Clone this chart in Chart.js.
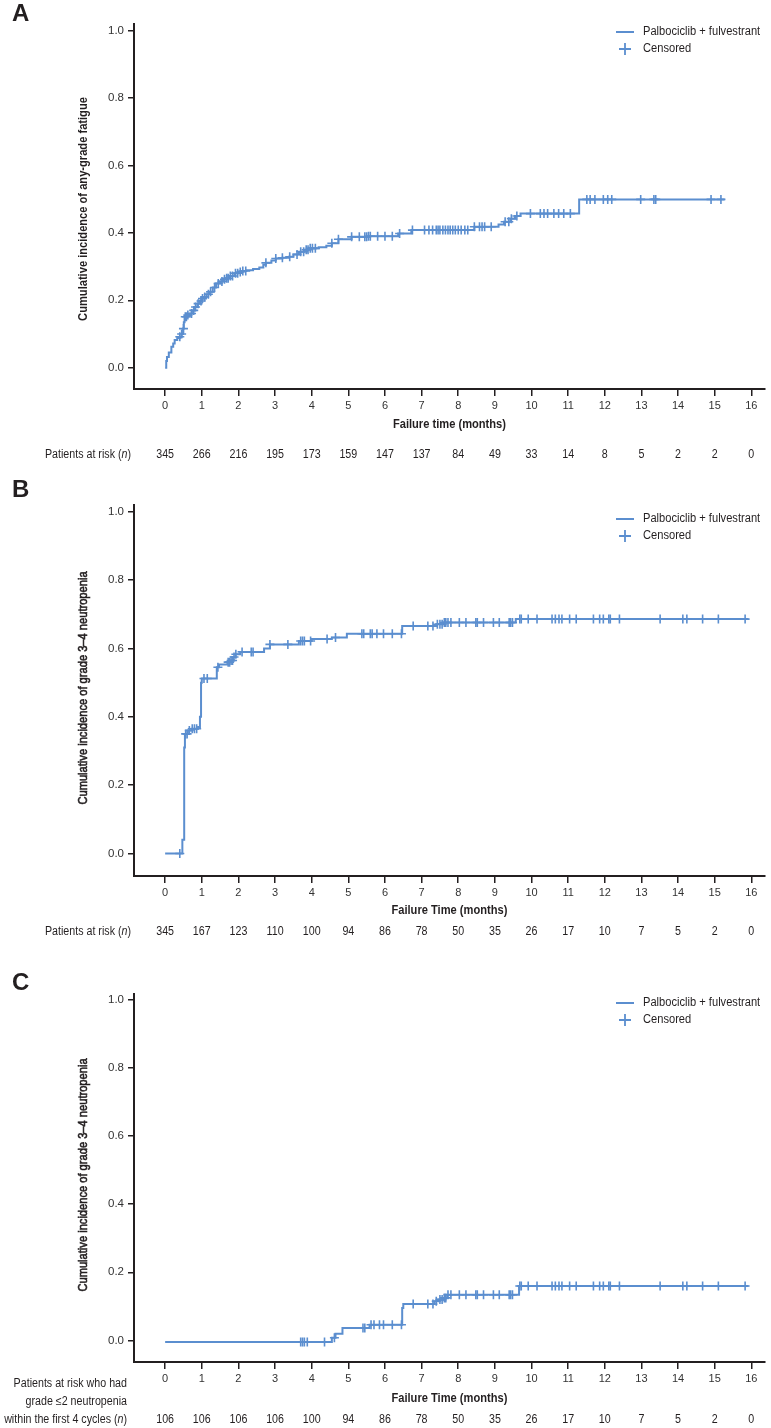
<!DOCTYPE html>
<html>
<head>
<meta charset="utf-8">
<script src="https://cdn.jsdelivr.net/npm/chart.js@4.4.0/dist/chart.umd.min.js"></script>
<style>
    body { margin: 0; background: #fff; }
    #wrap { position: relative; width: 771px; height: 1428px; }
    canvas { position: absolute; left: 0; }
</style>
</head>
<body>
<div id="wrap">
    <canvas id="chartA" width="771" height="470" style="top:0px"></canvas>
    <canvas id="chartB" width="771" height="490" style="top:470px"></canvas>
    <canvas id="chartC" width="771" height="468" style="top:960px"></canvas>
</div>
<script>
// Ejes comunes
const monthTicks = [0, 1, 2, 3, 4, 5, 6, 7, 8, 9, 10, 11, 12, 13, 14, 15, 16];
const incidenceTicks = [0, 0.2, 0.4, 0.6, 0.8, 1.0];

// Panel A - fatiga de cualquier grado
const fatigueTimes = [
    0, 0.03, 0.05, 0.10, 0.17, 0.22, 0.26, 0.33, 0.40, 0.45,
    0.49, 0.51, 0.53, 0.60, 0.67, 0.73, 0.80, 0.88, 0.95, 0.99,
    1.05, 1.13, 1.21, 1.30, 1.39, 1.50, 1.58, 1.66, 1.77, 1.89,
    2.00, 2.10, 2.21, 2.40, 2.57, 2.68, 2.75, 2.90, 3.02, 3.20,
    3.38, 3.50, 3.65, 3.80, 3.92, 4.19, 4.40, 4.55, 4.73, 5.09,
    5.55, 6.36, 6.72, 8.44, 9.10, 9.25, 9.43, 9.55, 9.70, 11.30,
    15.27
];
const fatigueValues = [
    0, 0.020, 0.032, 0.045, 0.062, 0.072, 0.082, 0.088, 0.092, 0.100,
    0.116, 0.135, 0.151, 0.156, 0.161, 0.170, 0.180, 0.190, 0.198, 0.205,
    0.210, 0.218, 0.225, 0.238, 0.250, 0.256, 0.262, 0.265, 0.272, 0.280,
    0.284, 0.287, 0.289, 0.293, 0.297, 0.305, 0.311, 0.318, 0.324, 0.326,
    0.329, 0.336, 0.344, 0.350, 0.354, 0.357, 0.362, 0.369, 0.381, 0.388,
    0.390, 0.398, 0.408, 0.418, 0.425, 0.433, 0.442, 0.450, 0.457, 0.499,
    0.499
];
const fatigueCensored = [
    0.40, 0.45, 0.50, 0.55, 0.58, 0.62, 0.72, 0.78, 0.83, 0.90, 0.98, 1.02, 1.08, 1.18, 1.24,
    1.35, 1.45, 1.55, 1.62, 1.68, 1.72, 1.78, 1.84, 1.92, 1.98, 2.05, 2.12, 2.20, 2.75, 3.02,
    3.20, 3.40, 3.60, 3.70, 3.78, 3.85, 3.90, 3.96, 4.02, 4.10, 4.55, 4.73, 5.09, 5.30, 5.45,
    5.50, 5.55, 5.60, 5.80, 6.00, 6.20, 6.40, 6.75, 7.08, 7.20, 7.30, 7.40, 7.45, 7.50, 7.58,
    7.65, 7.72, 7.78, 7.85, 7.92, 8.00, 8.08, 8.18, 8.26, 8.44, 8.58, 8.65, 8.72, 8.90, 9.28,
    9.38, 9.45, 9.60, 9.97, 10.24, 10.34, 10.44, 10.61, 10.74, 10.88, 11.06, 11.51, 11.60, 11.73,
    11.96, 12.08, 12.19, 12.98, 13.34, 13.39, 14.90, 15.17
];
const fatigueAtRisk = [345, 266, 216, 195, 173, 159, 147, 137, 84, 49, 33, 14, 8, 5, 2, 2, 0];

// Panel B - neutropenia grado 3-4
const neutTimes = [
    0, 0.47, 0.52, 0.54, 0.62, 0.72, 0.90, 0.95, 0.98, 1.00,
    1.41, 1.47, 1.70, 1.80, 1.85, 1.92, 2.05, 2.70, 2.86, 3.65,
    4.00, 4.55, 4.96, 6.47, 7.40, 7.60, 9.57, 15.92
];
const neutValues = [
    0, 0.04, 0.31, 0.35, 0.36, 0.365, 0.37, 0.40, 0.50, 0.512,
    0.545, 0.553, 0.56, 0.565, 0.575, 0.583, 0.59, 0.60, 0.612, 0.622,
    0.628, 0.632, 0.643, 0.666, 0.671, 0.676, 0.686, 0.686
];
const neutCensored = [
    0.40, 0.56, 0.60, 0.66, 0.74, 0.80, 0.86, 1.06, 1.15, 1.44, 1.72, 1.76, 1.80, 1.84, 1.88,
    1.93, 2.10, 2.35, 2.40, 2.86, 3.35, 3.70, 3.75, 3.80, 3.97, 4.42, 4.65, 5.37, 5.42, 5.60,
    5.65, 5.78, 5.96, 6.20, 6.45, 6.77, 7.17, 7.31, 7.43, 7.50, 7.56, 7.62, 7.66, 7.72, 7.80,
    8.03, 8.21, 8.48, 8.52, 8.69, 8.96, 9.12, 9.39, 9.43, 9.48, 9.68, 9.72, 9.91, 10.15, 10.56,
    10.65, 10.75, 10.83, 11.04, 11.22, 11.69, 11.86, 11.96, 12.11, 12.15, 12.40, 13.51, 14.13, 14.24, 14.67,
    15.10, 15.83
];
const neutAtRisk = [345, 167, 123, 110, 100, 94, 86, 78, 50, 35, 26, 17, 10, 7, 5, 2, 0];

// Panel C - neutropenia grado 3-4 tras 4 ciclos
const lateTimes = [0, 4.55, 4.65, 4.84, 5.58, 6.47, 6.50, 7.35, 7.45, 7.60, 7.70, 9.66, 15.92];
const lateValues = [-0.004, 0.008, 0.020, 0.037, 0.046, 0.095, 0.107, 0.115, 0.120, 0.125, 0.134, 0.160, 0.160];
const lateCensored = [
    3.70, 3.75, 3.80, 3.88, 4.35, 4.62, 5.40, 5.45, 5.62, 5.70, 5.85, 5.96, 6.20, 6.45, 6.77,
    7.17, 7.31, 7.40, 7.50, 7.56, 7.62, 7.66, 7.72, 7.80, 8.03, 8.21, 8.48, 8.52, 8.69, 8.96,
    9.12, 9.39, 9.43, 9.48, 9.68, 9.72, 9.91, 10.15, 10.56, 10.65, 10.75, 10.83, 11.04, 11.22, 11.69,
    11.86, 11.96, 12.11, 12.15, 12.40, 13.51, 14.13, 14.24, 14.67, 15.10, 15.83
];
const lateAtRisk = [106, 106, 106, 106, 100, 94, 86, 78, 50, 35, 26, 17, 10, 7, 5, 2, 0];

const LINE = '#5b8ecf';
const INK = '#231f20';
const FONT = '"Liberation Sans", Arial, sans-serif';
const SQUEEZE = 0.89;   // la fuente original es más estrecha

function toPoints(times, values) {
    return times.map((t, i) => ({ x: t, y: values[i] }));
}

// valor de la curva escalonada en el tiempo t
function valueAt(times, values, t) {
    let v = values[0];
    for (let i = 0; i < times.length; i++) {
        if (times[i] <= t) v = values[i];
    }
    return v;
}

// texto comprimido horizontalmente
function narrowText(ctx, text, x, y, align, stroke) {
    ctx.save();
    ctx.translate(x, y);
    ctx.scale(SQUEEZE, 1);
    ctx.textAlign = align;
    ctx.fillText(text, 0, 0);
    if (stroke) {
        ctx.strokeStyle = ctx.fillStyle;
        ctx.lineWidth = stroke;
        ctx.strokeText(text, 0, 0);
    }
    ctx.restore();
}

// Etiqueta con (n) en cursiva, alineada a la derecha
function drawRiskLabel(ctx, text, rightX, y) {
    const plain = '12px ' + FONT;
    const italic = 'italic 12px ' + FONT;
    ctx.font = plain;
    const close = ctx.measureText(')').width * SQUEEZE;
    const pre = text + ' (';
    const preW = ctx.measureText(pre).width * SQUEEZE;
    ctx.font = italic;
    const nW = ctx.measureText('n').width * SQUEEZE;
    let x = rightX - close - nW - preW;
    ctx.font = plain;
    narrowText(ctx, pre, x, y, 'left');
    x += preW;
    ctx.font = italic;
    narrowText(ctx, 'n', x, y, 'left');
    x += nW;
    ctx.font = plain;
    narrowText(ctx, ')', x, y, 'left');
}

function decorPlugin(panel) {
    return {
        id: 'decor' + panel.letter,
        afterDraw(chart) {
            const ctx = chart.ctx;
            const off = panel.top;
            const xs = chart.scales.x;
            ctx.save();
            ctx.fillStyle = INK;
            ctx.textBaseline = 'middle';

            // letra del panel
            ctx.font = 'bold 24px ' + FONT;
            ctx.textAlign = 'left';
            ctx.fillText(panel.letter, 12, panel.letterY - off);

            // leyenda
            const ly = panel.legendY - off;
            ctx.strokeStyle = LINE;
            ctx.lineWidth = 2;
            ctx.beginPath();
            ctx.moveTo(616, ly);
            ctx.lineTo(634, ly);
            ctx.stroke();
            ctx.lineWidth = 1.8;
            ctx.beginPath();
            ctx.moveTo(619, ly + 17);
            ctx.lineTo(631, ly + 17);
            ctx.moveTo(625, ly + 11);
            ctx.lineTo(625, ly + 23);
            ctx.stroke();
            ctx.font = '12.5px ' + FONT;
            narrowText(ctx, 'Palbociclib + fulvestrant', 643, ly, 'left');
            narrowText(ctx, 'Censored', 643, ly + 17, 'left');

            // título eje Y
            ctx.save();
            ctx.translate(84, panel.yTitleY - off);
            ctx.rotate(-Math.PI / 2);
            ctx.font = panel.yTitleFont + ' 12.5px ' + FONT;
            narrowText(ctx, panel.yTitle, 0, 0, 'center', panel.yTitleStroke);
            ctx.restore();

            // título eje X
            ctx.font = 'bold 12.5px ' + FONT;
            narrowText(ctx, panel.xTitle, (chart.chartArea.left + chart.chartArea.right) / 2, panel.xTitleY - off, 'center');

            // pacientes en riesgo
            ctx.font = '12px ' + FONT;
            if (panel.riskLines) {
                narrowText(ctx, panel.riskLines[0], 127, panel.riskLineY[0] - off, 'right');
                narrowText(ctx, panel.riskLines[1], 127, panel.riskLineY[1] - off, 'right');
                drawRiskLabel(ctx, panel.riskLines[2], 127, panel.riskLineY[2] - off);
            } else {
                drawRiskLabel(ctx, 'Patients at risk', 131, panel.riskY - off);
            }
            ctx.font = '12px ' + FONT;
            panel.atRisk.forEach((n, i) => {
                narrowText(ctx, String(n), xs.getPixelForValue(monthTicks[i]), panel.riskY - off, 'center');
            });
            ctx.restore();
        }
    };
}

function makePanel(panel) {
    const ctx = document.getElementById(panel.id);
    const censorPoints = panel.censored.map(t => ({ x: t, y: valueAt(panel.times, panel.values, t) }));
    const axisGrid = {
        display: true,
        drawOnChartArea: false,
        drawTicks: true,
        color: INK,
        tickColor: INK,
        lineWidth: 1.5,
        tickWidth: 1.5
    };
    return new Chart(ctx, {
        type: 'scatter',
        data: {
            datasets: [
                {
                    type: 'scatter',
                    data: censorPoints,
                    pointStyle: 'cross',
                    pointRadius: 4.5,
                    borderWidth: 1.6,
                    borderColor: LINE,
                    backgroundColor: LINE,
                    clip: false
                },
                {
                    type: 'line',
                    data: toPoints(panel.times, panel.values),
                    stepped: true,
                    showLine: true,
                    pointRadius: 0,
                    borderWidth: 2,
                    borderColor: LINE,
                    fill: false
                }
            ]
        },
        options: {
            responsive: false,
            animation: false,
            events: [],
            layout: { padding: { top: panel.areaTop - panel.top, right: 3, left: 0, bottom: 0 } },
            plugins: {
                legend: { display: false },
                tooltip: { enabled: false }
            },
            scales: {
                x: {
                    type: 'linear',
                    min: -0.85,
                    max: 16.37,
                    afterBuildTicks: s => { s.ticks = monthTicks.map(v => ({ value: v })); },
                    afterFit: s => { s.height = panel.height - (panel.areaBottom - panel.top); },
                    grid: Object.assign({ tickLength: 7 }, axisGrid),
                    border: { display: true, color: INK, width: 2 },
                    ticks: {
                        padding: 3,
                        color: '#333',
                        maxRotation: 0,
                        font: { family: FONT, size: 11 },
                        callback: v => String(v)
                    }
                },
                y: {
                    type: 'linear',
                    min: panel.yMin,
                    max: panel.yMax,
                    afterBuildTicks: s => { s.ticks = incidenceTicks.map(v => ({ value: v })); },
                    afterFit: s => { s.width = 134; },
                    grid: Object.assign({ tickLength: 6 }, axisGrid),
                    border: { display: true, color: INK, width: 2 },
                    ticks: {
                        padding: 4,
                        color: '#333',
                        font: { family: FONT, size: 11.5 },
                        callback: v => v.toFixed(1)
                    }
                }
            }
        },
        plugins: [decorPlugin(panel)]
    });
}

makePanel({
    id: 'chartA', letter: 'A', top: 0, height: 470, areaTop: 24, areaBottom: 389,
    yMin: -0.063, yMax: 1.019,
    times: fatigueTimes, values: fatigueValues, censored: fatigueCensored, atRisk: fatigueAtRisk,
    letterY: 14, legendY: 32, yTitleY: 209, yTitleFont: 'bold', yTitleStroke: 0,
    yTitle: 'Cumulative incidence of any-grade fatigue',
    xTitle: 'Failure time (months)', xTitleY: 425, riskY: 455
});

makePanel({
    id: 'chartB', letter: 'B', top: 470, height: 490, areaTop: 505, areaBottom: 876,
    yMin: -0.066, yMax: 1.02,
    times: neutTimes, values: neutValues, censored: neutCensored, atRisk: neutAtRisk,
    letterY: 490, legendY: 519, yTitleY: 688, yTitleFont: 'normal', yTitleStroke: 0.6,
    yTitle: 'Cumulative incidence of grade 3–4 neutropenia',
    xTitle: 'Failure Time (months)', xTitleY: 911, riskY: 932
});

makePanel({
    id: 'chartC', letter: 'C', top: 960, height: 468, areaTop: 994, areaBottom: 1362,
    yMin: -0.063, yMax: 1.016,
    times: lateTimes, values: lateValues, censored: lateCensored, atRisk: lateAtRisk,
    letterY: 983, legendY: 1003, yTitleY: 1175, yTitleFont: 'normal', yTitleStroke: 0.6,
    yTitle: 'Cumulative incidence of grade 3–4 neutropenia',
    xTitle: 'Failure Time (months)', xTitleY: 1399, riskY: 1420,
    riskLines: ['Patients at risk who had', 'grade ≤2 neutropenia', 'within the first 4 cycles'],
    riskLineY: [1384, 1402, 1420]
});
</script>
</body>
</html>
